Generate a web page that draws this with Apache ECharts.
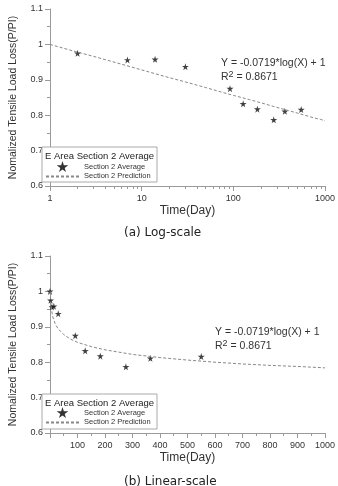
<!DOCTYPE html>
<html>
<head>
<meta charset="utf-8">
<script src="https://cdn.jsdelivr.net/npm/echarts@6/dist/echarts.min.js"></script>
<style>
html, body { margin: 0; padding: 0; background: #fff; }
#chart { width: 338px; height: 486px; }
</style>
</head>
<body>
<div id="chart"></div>
<script>
// 측정값 (Section 2 Average)
var avgDays = [0, 2, 7, 14, 30, 92, 128, 183, 276, 365, 550];
var avgValues = [1.0, 0.975, 0.956, 0.958, 0.937, 0.875, 0.832, 0.817, 0.787, 0.811, 0.816];
// 예측 곡선 (Section 2 Prediction) - 그림에서 읽은 값
var predDays = [1, 2, 3, 5, 10, 20, 30, 50, 75, 100, 150, 200, 300, 400, 500, 600, 700, 800, 900, 1000];
var predValues = [1.0, 0.978, 0.966, 0.950, 0.928, 0.906, 0.894, 0.878, 0.865, 0.856, 0.844, 0.835, 0.822, 0.813, 0.806, 0.800, 0.795, 0.791, 0.788, 0.784];
// 축 범위
var yRange = [0.6, 1.1];
var yStep = 0.1;
var logRange = [1, 1000];
var linRange = [0, 1000];
var linStep = 100;
// 텍스트
var eqText = 'Y = -0.0719*log(X) + 1';
var r2Value = '0.8671';
var legendTitle = 'E Area Section 2 Average';
var captions = ['(a) Log-scale', '(b) Linear-scale'];

var starPath = 'path://M50,0 L61,35 L98,35 L68,57 L79,91 L50,70 L21,91 L32,57 L2,35 L39,35 Z';
var axisGray = '#9a9a9a';
var textColor = '#333';
var font = 'Liberation Sans';

function pairs(xs, ys, skipZero) {
    var out = [];
    for (var i = 0; i < xs.length; i++) {
        if (skipZero && xs[i] <= 0) continue;
        out.push([xs[i], ys[i]]);
    }
    return out;
}

function plain(v) { return String(v); }

function yAxisOf(gi) {
    return {
        gridIndex: gi,
        type: 'value',
        min: yRange[0],
        max: yRange[1],
        interval: yStep,
        name: 'Nomalized Tensile Load Loss(P/PI)',
        nameLocation: 'middle',
        nameGap: 31,
        nameTextStyle: { fontSize: 10.5, color: textColor, fontFamily: font },
        axisLine: { show: true, lineStyle: { color: axisGray } },
        axisTick: { show: true, length: 5, lineStyle: { color: axisGray } },
        minorTick: { show: true, splitNumber: 2, length: 3, lineStyle: { color: axisGray } },
        axisLabel: { fontSize: 9, color: textColor, margin: 7, fontFamily: font, formatter: plain },
        splitLine: { show: false }
    };
}

function xAxisCommon(gi) {
    return {
        gridIndex: gi,
        name: 'Time(Day)',
        nameLocation: 'middle',
        nameGap: 19,
        nameTextStyle: { fontSize: 12, color: textColor, fontFamily: font },
        axisLine: { show: true, lineStyle: { color: axisGray } },
        axisTick: { show: true, length: 5, lineStyle: { color: axisGray } },
        axisLabel: { fontSize: 9, color: textColor, margin: 8, fontFamily: font, formatter: plain },
        splitLine: { show: false }
    };
}

var xLog = xAxisCommon(0);
xLog.type = 'log';
xLog.logBase = 10;
xLog.min = logRange[0];
xLog.max = logRange[1];
xLog.minorTick = { show: true, splitNumber: 9, length: 3, lineStyle: { color: axisGray } };

var xLin = xAxisCommon(1);
xLin.type = 'value';
xLin.min = linRange[0];
xLin.max = linRange[1];
xLin.interval = linStep;
xLin.axisLabel.showMinLabel = false;
xLin.minorTick = { show: true, splitNumber: 2, length: 3, lineStyle: { color: axisGray } };

function legendOf(top) {
    return {
        left: 45,
        top: top,
        orient: 'vertical',
        itemWidth: 33,
        itemHeight: 11,
        itemGap: 0,
        padding: 0,
        z: 10,
        textStyle: { fontSize: 7.5, color: textColor, fontFamily: font },
        data: [
            { name: 'Section 2 Average', icon: starPath, itemStyle: { color: '#000' } },
            { name: 'Section 2 Prediction', itemStyle: { opacity: 0 } }
        ]
    };
}

function annotation(left, top) {
    return [
        {
            type: 'text', left: left, top: top,
            style: { text: eqText, fontSize: 10.5, fill: textColor, fontFamily: font }
        },
        {
            type: 'text', left: left, top: top + 12,
            style: {
                text: '{a|R}{s|2}{a| = ' + r2Value + '}',
                rich: {
                    a: { fontSize: 10.5, fill: textColor, fontFamily: font, lineHeight: 14 },
                    s: { fontSize: 9, fill: textColor, fontFamily: font, verticalAlign: 'top', lineHeight: 10 }
                }
            }
        }
    ];
}

function legendBox(top) {
    return [
        {
            type: 'rect', z: 1,
            shape: { x: 42, y: top, width: 115, height: 35 },
            style: { fill: '#fff', stroke: '#aaa', lineWidth: 1 }
        },
        {
            type: 'text', z: 2, left: 45, top: top + 4,
            style: { text: legendTitle, fontSize: 9.5, fill: '#222', fontFamily: font }
        }
    ];
}

function predSeries(ai) {
    return {
        name: 'Section 2 Prediction',
        type: 'line',
        xAxisIndex: ai,
        yAxisIndex: ai,
        data: pairs(predDays, predValues, true),
        symbol: 'none',
        itemStyle: { color: '#888' },
        lineStyle: { color: '#888', width: 1, type: [3, 2] }
    };
}

function avgSeries(ai, skipZero) {
    return {
        name: 'Section 2 Average',
        type: 'scatter',
        xAxisIndex: ai,
        yAxisIndex: ai,
        data: pairs(avgDays, avgValues, skipZero),
        symbol: starPath,
        symbolSize: 7,
        itemStyle: { color: '#111' }
    };
}

var captionStyle = { fontSize: 12, fontWeight: 'normal', color: '#222', fontFamily: 'DejaVu Sans' };

var myChart = echarts.init(document.getElementById('chart'));
var option = {
    animation: false,
    backgroundColor: '#fff',
    title: [
        { text: captions[0], left: 119, top: 222, textStyle: captionStyle },
        { text: captions[1], left: 119, top: 471, textStyle: captionStyle }
    ],
    grid: [
        { left: 40, right: 12, top: 9, height: 177 },
        { left: 40, right: 12, top: 256, height: 177 }
    ],
    xAxis: [xLog, xLin],
    yAxis: [yAxisOf(0), yAxisOf(1)],
    legend: [legendOf(161), legendOf(407)],
    graphic: legendBox(147).concat(legendBox(394), annotation(221, 58), annotation(215, 327)),
    series: [
        predSeries(0),
        avgSeries(0, true),
        predSeries(1),
        avgSeries(1, false)
    ]
};
myChart.setOption(option);
</script>
</body>
</html>
